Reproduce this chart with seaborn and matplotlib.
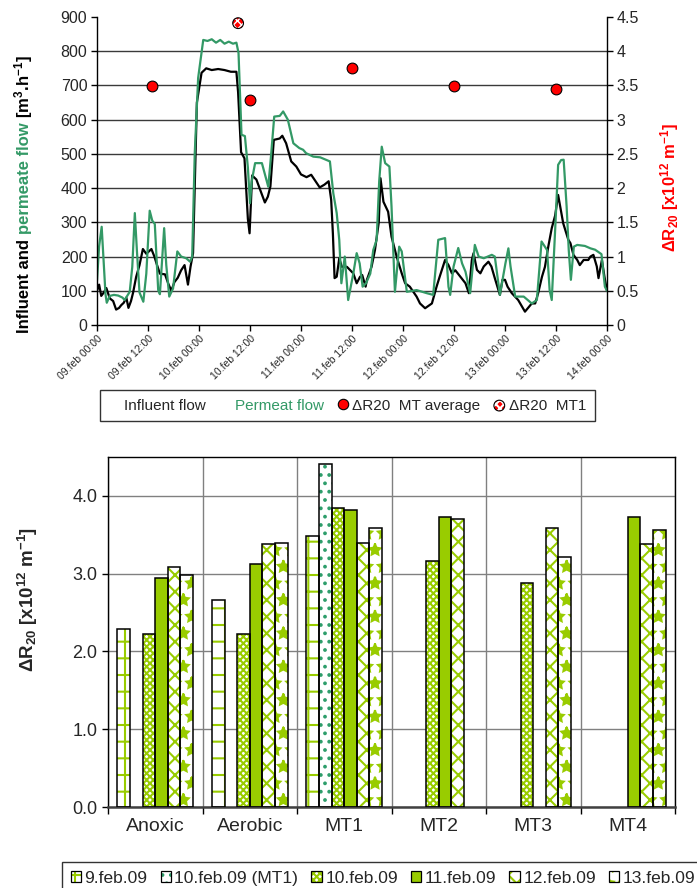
import numpy as np
import pandas as pd
import matplotlib
matplotlib.use("Agg")
import matplotlib.pyplot as plt
import seaborn as sns
from matplotlib.patches import Patch, Rectangle
from matplotlib.lines import Line2D
from matplotlib.legend_handler import HandlerTuple
from matplotlib.ticker import FormatStrFormatter

# ---------------------------------------------------------------- data
# hours since 09.feb 00:00
influent_h = [0, 0.5, 1, 1.6, 2.2, 3, 3.8, 4.5, 5.2, 5.7, 6.3, 6.9, 7.4, 8, 8.5, 9.2, 10, 10.8, 11.6,
              12.8, 13.5, 14, 14.8, 16, 16.8, 17.5, 18.2, 19, 19.8, 20.6, 21.4, 22, 22.6, 23.2, 23.5,
              24.6, 25.7, 27, 28.5, 30, 31.5, 32.8, 33.2, 33.9, 34.7, 35.5, 35.9, 36.5, 37.5, 38.7,
              39.5, 40.2, 40.8, 41.6, 43, 43.6, 44.5, 45.7, 46.9, 48, 49.3, 50.4, 51.2, 52.4, 53.5,
              54.5, 55.1, 55.5, 55.9, 56.4, 57, 57.6, 58.8, 59.5, 60.3, 61.1, 61.9, 62.4, 63.2, 63.5,
              64.6, 65.4, 66.3, 66.7, 67.4, 68.5, 69.3, 70.5, 71.7, 72.5, 73.6, 75.2, 76, 77.2, 78.8,
              79.9, 80.6, 81.9, 82.7, 83.5, 84.3, 85.5, 86.7, 87.5, 88.2, 88.6, 89.4, 90.2, 91, 92.1,
              92.8, 93.6, 94.8, 95.4, 96, 96.6, 97.6, 99.1, 100.7, 102.3, 103.1, 103.8, 104.7, 105.4,
              106.2, 107, 107.8, 108.5, 109.7, 110.9, 111.4, 112.1, 113, 113.6, 114.5, 115.6, 116.1,
              116.8, 117.6, 118, 118.8, 119.4, 120]
influent_v = [100, 118, 85, 95, 108, 78, 70, 45, 50, 58, 65, 80, 50, 70, 95, 140, 175, 222, 208,
              222, 200, 180, 150, 148, 120, 100, 125, 138, 160, 175, 118, 170, 210, 500, 650,
              737, 750, 745, 748, 745, 740, 740, 680, 505, 487, 310, 268, 437, 425, 385,
              358, 375, 405, 541, 545, 553, 531, 478, 463, 440, 432, 439, 424, 402, 410,
              420, 366, 268, 137, 141, 195, 170, 170, 161, 151, 122, 141, 146, 112, 132,
              170, 219, 300, 429, 360, 331, 258, 200, 151, 122, 112, 83, 63, 49, 63,
              112, 140, 190, 175, 151, 160, 141, 122, 93, 190, 210, 161, 151, 171, 185,
              171, 137, 88, 132, 132, 112, 93, 73, 39, 63, 63, 93, 141, 170,
              230, 283, 320, 380, 297, 249, 239, 205, 190, 175, 190, 190, 200,
              205, 171, 137, 190, 141, 100]

permeate_h = [0, 0.5, 1.1, 1.5, 2, 2.3, 3, 4, 5, 6, 6.5, 7.7, 8.3, 8.9, 9.4, 10, 10.9, 11.6, 12.4,
              13, 13.6, 14.4, 14.8, 15.8, 16.3, 17, 17.9, 18.9, 19.8, 21, 21.9, 22.4, 22.8, 23, 23.8,
              25, 26, 27, 28, 29, 30, 31, 32, 32.8, 33.3, 34, 34.8, 35.5, 36, 36.4, 37.2, 38.8,
              40.3, 41, 41.7, 43, 43.8, 44.9, 46.2, 47.6, 48.5, 49.2, 50.9, 52.5, 54.8, 55.6, 56.4,
              57, 57.5, 58.3, 59.1, 60.3, 61.1, 61.8, 62.5, 63.3, 64.3, 65, 65.8, 66.4, 67, 67.8,
              68.8, 69.3, 70.1, 71.1, 71.7, 72.9, 75.2, 77.6, 79.1, 79.8, 80.3, 81.9, 82.7, 83.1,
              83.9, 85, 85.9, 86.7, 87.8, 88.9, 89.8, 91, 92.9, 93.6, 94.8, 96.1, 96.8, 97.3, 98.4,
              100.4, 102.3, 103.5, 104.6, 105.9, 106.5, 107, 107.8, 108.5, 109.2, 109.8, 110.5,
              111, 111.5, 112.2, 113, 114.8, 116.1, 117.2, 118.7, 119.5, 120]
permeate_v = [130, 230, 287, 200, 90, 65, 85, 88, 86, 80, 73, 97, 170, 327, 215, 95, 68, 150, 334,
              305, 295, 102, 90, 283, 175, 83, 107, 215, 200, 195, 185, 200, 400, 502, 722,
              833, 830, 835, 825, 833, 822, 828, 822, 825, 795, 556, 552, 460, 356, 420, 473, 473,
              404, 502, 609, 611, 624, 600, 531, 517, 512, 502, 492, 490, 478, 385, 327,
              249, 122, 200, 73, 150, 210, 180, 112, 122, 150, 219, 249, 420, 521, 473,
              463, 346, 97, 229, 215, 97, 102, 93, 88, 180, 249, 254, 112, 88,
              171, 225, 180, 156, 93, 234, 200, 195, 205, 200, 88, 180, 224, 171, 83,
              83, 63, 73, 244, 219, 102, 73, 278, 468, 482, 483, 346,
              219, 132, 229, 234, 231, 224, 220, 207, 112, 100]

# specific filtration resistance, MT average and MT1 (x10^12 m^-1)
dr_avg_h = [13, 36, 60, 84, 108]
dr_avg_v = [3.49, 3.29, 3.76, 3.49, 3.45]
dr_mt1_h = [33.2]
dr_mt1_v = [4.41]

time_labels = ["09.feb 00:00", "09.feb 12:00", "10.feb 00:00", "10.feb 12:00",
               "11.feb 00:00", "11.feb 12:00", "12.feb 00:00", "12.feb 12:00",
               "13.feb 00:00", "13.feb 12:00", "14.feb 00:00"]

sites = ["Anoxic", "Aerobic", "MT1", "MT2", "MT3", "MT4"]
dates = ["9.feb.09", "10.feb.09 (MT1)", "10.feb.09", "11.feb.09", "12.feb.09", "13.feb.09"]
nan = np.nan
dr_09feb = [2.29, 2.66, 3.49, nan, nan, nan]
dr_10feb_mt1 = [nan, nan, 4.41, nan, nan, nan]
dr_10feb = [2.23, 2.22, 3.84, 3.16, 2.88, nan]
dr_11feb = [2.94, 3.13, 3.82, 3.73, nan, 3.73]
dr_12feb = [3.08, 3.38, 3.39, 3.70, 3.59, 3.38]
dr_13feb = [2.98, 3.39, 3.59, nan, 3.21, 3.56]

# ---------------------------------------------------------------- style
sns.set_theme(style="ticks")
plt.rcParams["font.family"] = ["Liberation Sans", "DejaVu Sans"]
plt.rcParams["mathtext.default"] = "regular"
plt.rcParams["hatch.linewidth"] = 1.5

LINE_GREEN = "#339966"
BAR_GREEN = "#99CC00"
DOT_TEAL = "#2E9E6B"
RED = "#FF0000"

W, H = 697, 888
fig = plt.figure(figsize=(W / 100, H / 100), dpi=100)

# ---------------------------------------------------------------- flows panel
ax1 = fig.add_axes([97 / W, 1 - 325 / H, 510 / W, 308 / H])
sns.lineplot(x=influent_h, y=influent_v, ax=ax1, color="black", linewidth=1.6,
             sort=False, estimator=None)
sns.lineplot(x=permeate_h, y=permeate_v, ax=ax1, color=LINE_GREEN, linewidth=1.6,
             sort=False, estimator=None)
ax1.set_xlim(0, 120)
ax1.set_ylim(0, 900)
ax1.set_yticks(range(0, 901, 100))
ax1.set_xticks(range(0, 121, 12))
ax1.set_xticklabels(time_labels, rotation=45, ha="right", rotation_mode="anchor", fontsize=7.5)
ax1.tick_params(axis="y", labelsize=11.5, length=4, width=1, color="black", pad=3)
ax1.tick_params(axis="x", length=4, width=1, color="black", pad=2)
ax1.grid(axis="y", color="#3a3a3a", linewidth=1)
ax1.get_ygridlines()[0].set_visible(False)
ax1.get_ygridlines()[-1].set_visible(False)
ax1.set_xlabel("")
ax1.set_ylabel("")
for s in ["top", "right"]:
    ax1.spines[s].set_visible(False)
for s in ["left", "bottom"]:
    ax1.spines[s].set_color("black")
    ax1.spines[s].set_linewidth(1)

ax2 = ax1.twinx()
sns.scatterplot(x=dr_avg_h, y=dr_avg_v, ax=ax2, color=RED, edgecolor="black",
                s=60, linewidth=0.8, zorder=5)
with plt.rc_context({"hatch.color": "white", "hatch.linewidth": 1.0}):
    sns.scatterplot(x=dr_mt1_h, y=dr_mt1_v, ax=ax2, color=RED, edgecolor="white",
                    s=60, linewidth=0, hatch="xxxx", zorder=5)
mt1_fill = ax2.collections[-1]
sns.scatterplot(x=dr_mt1_h, y=dr_mt1_v, ax=ax2, facecolor="none", edgecolor="black",
                s=60, linewidth=0.8, zorder=6)
mt1_edge = ax2.collections[-1]
ax2.set_ylim(0, 4.5)
ax2.set_yticks(np.arange(0, 4.51, 0.5))
ax2.yaxis.set_major_formatter(FormatStrFormatter("%g"))
ax2.tick_params(axis="y", labelsize=11.5, length=4, width=1, color="black", pad=3)
ax2.set_ylabel("")
for s in ["top", "left", "bottom"]:
    ax2.spines[s].set_visible(False)
ax2.spines["right"].set_color("black")
ax2.spines["right"].set_linewidth(1)

leg1 = fig.legend(
    handles=[Line2D([], [], lw=0), Line2D([], [], lw=0),
             Line2D([], [], ls="none", marker="o", mfc=RED, mec="black", ms=7.5, mew=0.8),
             (mt1_fill, mt1_edge)],
    labels=["Influent flow", "Permeat flow", "\u0394R20  MT average", "\u0394R20  MT1"],
    handler_map={tuple: HandlerTuple(ndivide=1, pad=0)},
    loc="lower left", bbox_to_anchor=(100 / W, 1 - 421 / H, 495 / W, 34 / H),
    mode="expand", ncol=4, fontsize=11, frameon=True, fancybox=False,
    handlelength=0.8, handletextpad=0.25, borderaxespad=0, borderpad=0.55,
    columnspacing=0.5)
leg1.get_frame().set_edgecolor("black")
leg1.get_frame().set_linewidth(1)
leg1.get_texts()[1].set_color(LINE_GREEN)


def rotated_label(x_px, y_px, pieces, **kw):
    """Write a vertical label piece by piece, each piece in its own colour."""
    fig.canvas.draw()
    r = fig.canvas.get_renderer()
    probe_a = fig.text(0, 0, "I I", **kw)
    probe_b = fig.text(0, 0, "II", **kw)
    space = probe_a.get_window_extent(r).width - probe_b.get_window_extent(r).width
    probe_a.remove()
    probe_b.remove()
    y = y_px
    for text, color, gap in pieces:
        t = fig.text(x_px / W, 1 - y / H, text, color=color, rotation=90,
                     rotation_mode="anchor", ha="left", va="baseline", **kw)
        bb = t.get_window_extent(r)
        y = H - bb.y1 - (space if gap else 0)


rotated_label(29, 333, [("Influent and", "black", True),
                        ("permeate flow", LINE_GREEN, True),
                        ("[m$^{3}$.h$^{-1}$]", "black", False)],
              fontsize=12, fontweight="bold")
fig.text(670 / W, 1 - 188 / H, "\u0394R$_{20}$ [x10$^{12}$ m$^{-1}$]", color=RED,
         rotation=90, ha="center", va="center", fontsize=12, fontweight="bold")

# ---------------------------------------------------------------- resistance bars
ax3 = fig.add_axes([108 / W, 1 - 807 / H, 567 / W, 350 / H])
df = pd.DataFrame({
    "site": np.tile(sites, len(dates)),
    "date": np.repeat(dates, len(sites)),
    "dr": np.concatenate([dr_09feb, dr_10feb_mt1, dr_10feb, dr_11feb, dr_12feb, dr_13feb]),
}).dropna()
sns.barplot(data=df, x="site", y="dr", hue="date", order=sites, hue_order=dates,
            errorbar=None, width=0.8, ax=ax3, legend=False)

bar_styles = [
    dict(face="white", hatch="+", hcol=BAR_GREEN),
    dict(face="white", hatch="..", hcol=DOT_TEAL),
    dict(face="white", hatch="xxxxx", hcol=BAR_GREEN),
    dict(face=BAR_GREEN, hatch=None, hcol=BAR_GREEN),
    dict(face="white", hatch="xx", hcol=BAR_GREEN),
    dict(face="white", hatch="*", hcol=BAR_GREEN),
]
slot = 0.8 / len(dates)
for p in list(ax3.patches):
    cx = p.get_x() + p.get_width() / 2
    k = int(round((cx - round(cx) + 0.4) / slot - 0.5))
    st = bar_styles[k]
    p.set_facecolor(st["face"])
    p.set_edgecolor(st["hcol"])
    p.set_linewidth(0)
    if st["hatch"]:
        p.set_hatch(st["hatch"])
    ax3.add_patch(Rectangle((p.get_x(), p.get_y()), p.get_width(), p.get_height(),
                            fill=False, edgecolor="black", linewidth=1.1, zorder=3))

ax3.set_ylim(0, 4.5)
ax3.set_yticks(np.arange(0, 4.01, 1.0))
ax3.yaxis.set_major_formatter(FormatStrFormatter("%.1f"))
ax3.set_xlim(-0.5, 5.5)
ax3.set_xticks(np.arange(-0.5, 5.6, 1.0))
ax3.set_xticklabels([])
ax3.set_xticks(range(len(sites)), minor=True)
ax3.set_xticklabels(sites, minor=True, fontsize=14)
ax3.tick_params(axis="x", which="minor", length=0, pad=8)
ax3.tick_params(axis="x", which="major", length=5, width=1, color="black")
ax3.tick_params(axis="y", labelsize=13, length=4, width=1, color="black")
ax3.grid(True, which="major", color="#808080", linewidth=1)
ax3.set_axisbelow(True)
ax3.set_xlabel("")
ax3.set_ylabel("")
for s in ax3.spines.values():
    s.set_color("black")
    s.set_linewidth(1)
ax3.spines["bottom"].set_color("#404040")
ax3.spines["bottom"].set_linewidth(1.8)

fig.text(28 / W, 1 - 600 / H, "\u0394R$_{20}$ [x10$^{12}$ m$^{-1}$]", rotation=90,
         ha="center", va="center", fontsize=13.5, fontweight="bold")

legend_handles = []
for st in bar_styles:
    fillp = Patch(facecolor=st["face"], edgecolor=st["hcol"], hatch=st["hatch"], linewidth=0)
    edgep = Patch(facecolor="none", edgecolor="black", linewidth=0.9)
    legend_handles.append((fillp, edgep))
leg2 = fig.legend(handles=legend_handles, labels=dates,
                  handler_map={tuple: HandlerTuple(ndivide=1, pad=0)},
                  loc="upper left", bbox_to_anchor=(62 / W, 1 - 862 / H), ncol=6,
                  fontsize=12.5, frameon=True, fancybox=False, handlelength=0.6,
                  handleheight=0.6, handletextpad=0.2, columnspacing=0.75,
                  borderaxespad=0, borderpad=0.5)
leg2.get_frame().set_edgecolor("black")
leg2.get_frame().set_linewidth(1)

fig.savefig("out.png", dpi=100)
